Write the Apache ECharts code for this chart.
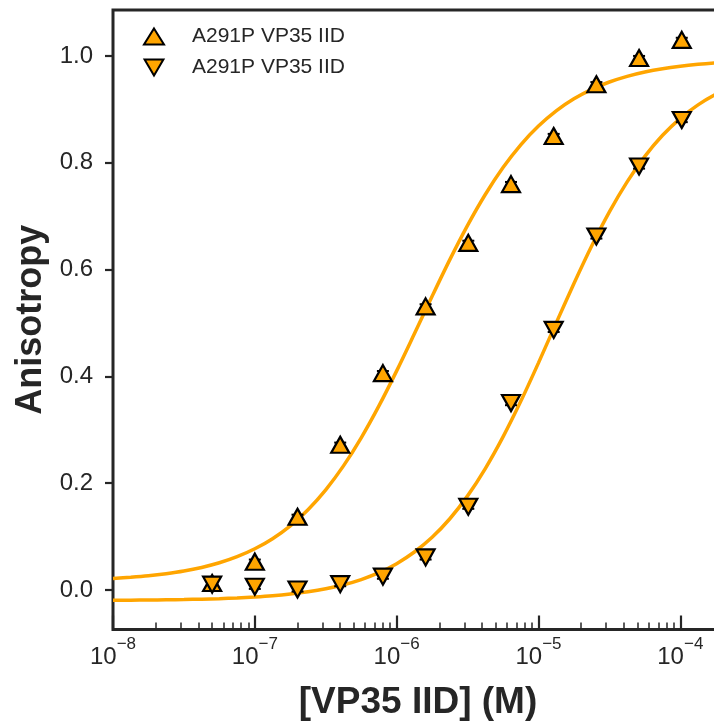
<!DOCTYPE html>
<html>
<head>
<meta charset="utf-8">
<script src="https://cdn.jsdelivr.net/npm/echarts@6/dist/echarts.min.js"></script>
<style>
  html, body { margin: 0; padding: 0; background: #fff; }
  #chart { width: 714px; height: 721px; }
</style>
</head>
<body>
<div id="chart"></div>
<script>
// Titration: anisotropy vs. protein concentration (two probes, same construct)
const legendLabel = 'A291P VP35 IID';

const concentrations = [5e-8, 1e-7, 2e-7, 4e-7, 8e-7, 1.6e-6, 3.2e-6, 6.4e-6, 1.28e-5, 2.56e-5, 5.12e-5, 1.024e-4];
const anisotropyUp   = [0.013, 0.053, 0.137, 0.272, 0.406, 0.531, 0.650, 0.760, 0.850, 0.947, 0.996, 1.030];
const anisotropyDown = [0.010, 0.006, 0.001, 0.011, 0.025, 0.061, 0.156, 0.350, 0.487, 0.662, 0.793, 0.880];
// standard deviations (small; mostly hidden behind the markers)
const errorUp   = [0.004, 0.004, 0.004, 0.004, 0.004, 0.004, 0.004, 0.004, 0.004, 0.004, 0.004, 0.004];
const errorDown = [0.004, 0.004, 0.004, 0.004, 0.004, 0.004, 0.004, 0.004, 0.004, 0.004, 0.004, 0.004];

// Fitted binding curves, sampled every eighth of a decade
const fitConcentrations = [
  1e-8, 1.3335e-8, 1.7783e-8, 2.3714e-8, 3.1623e-8, 4.217e-8, 5.6234e-8, 7.4989e-8,
  1e-7, 1.3335e-7, 1.7783e-7, 2.3714e-7, 3.1623e-7, 4.217e-7, 5.6234e-7, 7.4989e-7,
  1e-6, 1.3335e-6, 1.7783e-6, 2.3714e-6, 3.1623e-6, 4.217e-6, 5.6234e-6, 7.4989e-6,
  1e-5, 1.3335e-5, 1.7783e-5, 2.3714e-5, 3.1623e-5, 4.217e-5, 5.6234e-5, 7.4989e-5,
  1e-4, 1.3335e-4, 1.7783e-4, 2.3714e-4
];
const fitUp = [
  0.0216, 0.0238, 0.0266, 0.0305, 0.0355, 0.0422, 0.0509, 0.0623,
  0.0771, 0.0961, 0.1202, 0.1504, 0.1876, 0.2324, 0.2850, 0.3447,
  0.4103, 0.4797, 0.5500, 0.6186, 0.6827, 0.7405, 0.7909, 0.8336,
  0.8687, 0.8972, 0.9197, 0.9375, 0.9512, 0.9618, 0.9699, 0.9761,
  0.9807, 0.9842, 0.9869, 0.9889
];
const fitDown = [
  -0.0194, -0.0191, -0.0188, -0.0184, -0.0179, -0.0172, -0.0162, -0.0149,
  -0.0131, -0.0108, -0.0076, -0.0034, 0.0022, 0.0097, 0.0195, 0.0324,
  0.0493, 0.0711, 0.0987, 0.1334, 0.1762, 0.2274, 0.2867, 0.3532,
  0.4253, 0.5001, 0.5739, 0.6441, 0.7081, 0.7642, 0.8120, 0.8514,
  0.8832, 0.9084, 0.9280, 0.9432
];

const xMajorTicks = [1e-8, 1e-7, 1e-6, 1e-5, 1e-4];
const xMinorTicks = [];
xMajorTicks.forEach(function (d) {
  [2, 3, 4, 5, 6, 7, 8, 9].forEach(function (k) {
    const v = k * d;
    if (v < 1.99e-4) xMinorTicks.push(v);
  });
});
const yTicks = [0, 0.2, 0.4, 0.6, 0.8, 1.0];

const font = '"Liberation Sans", Arial, Helvetica, sans-serif';
const ink = '#262626';
const orange = '#FFA500';

function pairs(xs, ys) { return xs.map(function (x, i) { return [x, ys[i]]; }); }
function triples(xs, ys, es) { return xs.map(function (x, i) { return [x, ys[i], es[i]]; }); }

// vertical error bar with caps, drawn under the markers
function renderErrorBar(params, api) {
  const x = api.value(0), y = api.value(1), e = api.value(2);
  const hi = api.coord([x, y + e]);
  const lo = api.coord([x, y - e]);
  const half = 6;
  const style = { stroke: '#000', lineWidth: 2 };
  return {
    type: 'group',
    children: [
      { type: 'line', shape: { x1: hi[0], y1: hi[1], x2: lo[0], y2: lo[1] }, style: style },
      { type: 'line', shape: { x1: hi[0] - half, y1: hi[1], x2: hi[0] + half, y2: hi[1] }, style: style },
      { type: 'line', shape: { x1: lo[0] - half, y1: lo[1], x2: lo[0] + half, y2: lo[1] }, style: style }
    ]
  };
}

const chart = echarts.init(document.getElementById('chart'), null, { renderer: 'canvas' });

const xBase = {
  type: 'log',
  logBase: 10,
  min: 1e-8,
  max: 2e-4,
  position: 'bottom',
  axisLine: { show: false, onZero: false },
  splitLine: { show: false },
  minorTick: { show: false }
};

chart.setOption({
  animation: false,
  backgroundColor: '#fff',
  textStyle: { fontFamily: font },
  grid: {
    left: 113, right: -9, top: 10, bottom: 91.5,
    outerBoundsMode: 'none', containLabel: false,
    show: true, borderColor: ink, borderWidth: 3, backgroundColor: 'transparent'
  },
  legend: {
    left: 143, top: 26, orient: 'vertical', padding: 0,
    itemWidth: 20, itemHeight: 16, itemGap: 10,
    textStyle: { fontSize: 21, color: ink, fontFamily: font, padding: [0, 0, 0, 23] },
    formatter: function () { return legendLabel; },
    selectedMode: false,
    data: [
      { name: 'rising', icon: 'triangle' },
      { name: 'falling', icon: 'path://M0,0L20,0L10,17Z' }
    ]
  },
  xAxis: [
    Object.assign({}, xBase, {
      name: '[VP35 IID] (M)',
      nameLocation: 'middle',
      nameGap: 55,
      nameTextStyle: { fontSize: 37, fontWeight: 'bold', color: ink, fontFamily: font },
      axisTick: { show: true, inside: true, length: 14, customValues: xMajorTicks,
                  lineStyle: { color: ink, width: 2.2 } },
      axisLabel: {
        show: true, margin: 6, customValues: xMajorTicks,
        formatter: function (v) {
          return '{b|10}{s|' + '\u2212' + Math.abs(Math.round(Math.log10(v))) + '}';
        },
        rich: {
          b: { fontSize: 24, color: ink, fontFamily: font, padding: [10, 0, 0, 0], verticalAlign: 'bottom' },
          s: { fontSize: 17, color: ink, fontFamily: font, verticalAlign: 'top' }
        }
      }
    }),
    Object.assign({}, xBase, {
      axisTick: { show: true, inside: true, length: 7, customValues: xMinorTicks,
                  lineStyle: { color: ink, width: 1.5 } },
      axisLabel: { show: false }
    })
  ],
  yAxis: {
    type: 'value',
    min: -0.074,
    max: 1.086,
    name: 'Anisotropy',
    nameLocation: 'middle',
    nameGap: 64,
    nameTextStyle: { fontSize: 36, fontWeight: 'bold', color: ink, fontFamily: font },
    axisLine: { show: false, onZero: false },
    splitLine: { show: false },
    axisTick: { show: true, inside: false, length: 8, customValues: yTicks,
                lineStyle: { color: ink, width: 2.2 } },
    axisLabel: {
      show: true, margin: 20, customValues: yTicks, fontSize: 24, color: ink, fontFamily: font,
      formatter: function (v) { return v.toFixed(1); }
    }
  },
  series: [
    {
      name: 'fitRising', type: 'line', xAxisIndex: 0, data: pairs(fitConcentrations, fitUp),
      smooth: 0.3, showSymbol: false, silent: true, z: 2,
      lineStyle: { color: orange, width: 3.5 }
    },
    {
      name: 'fitFalling', type: 'line', xAxisIndex: 0, data: pairs(fitConcentrations, fitDown),
      smooth: 0.3, showSymbol: false, silent: true, z: 2,
      lineStyle: { color: orange, width: 3.5 }
    },
    {
      name: 'risingErr', type: 'custom', xAxisIndex: 0, silent: true, z: 3,
      renderItem: renderErrorBar, data: triples(concentrations, anisotropyUp, errorUp)
    },
    {
      name: 'fallingErr', type: 'custom', xAxisIndex: 0, silent: true, z: 3,
      renderItem: renderErrorBar, data: triples(concentrations, anisotropyDown, errorDown)
    },
    {
      name: 'rising', type: 'scatter', xAxisIndex: 0, data: pairs(concentrations, anisotropyUp),
      symbol: 'triangle', symbolSize: [18, 16], z: 5,
      itemStyle: { color: orange, borderColor: '#000', borderWidth: 2.2, opacity: 1 }
    },
    {
      name: 'falling', type: 'scatter', xAxisIndex: 0, data: pairs(concentrations, anisotropyDown),
      symbol: 'triangle', symbolRotate: 180, symbolSize: [18, 16], z: 5,
      itemStyle: { color: orange, borderColor: '#000', borderWidth: 2.2, opacity: 1 }
    }
  ]
});
</script>
</body>
</html>
